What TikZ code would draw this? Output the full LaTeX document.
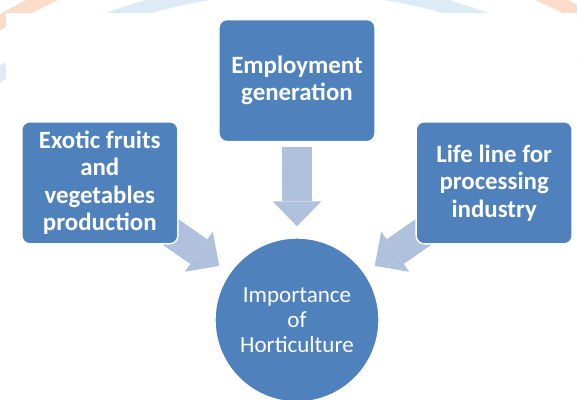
\documentclass[tikz,border=0pt]{standalone}
\usepackage{fontspec}
\setmainfont{Carlito}
\usepackage{tikz}
\usepackage{xcolor}
\usetikzlibrary{arrows.meta, positioning, backgrounds}
\definecolor{boxblue}{HTML}{4F81BD}
\definecolor{arrowblue}{HTML}{B0C1DE}
\definecolor{ringorange}{HTML}{FBDCCB}
\definecolor{ringblue}{HTML}{DDEBF6}
\tikzset{%
  box/.style={draw=white, line width=1pt, fill=boxblue, rounded corners=0.2cm,
    minimum width=3.9cm, minimum height=3.05cm, inner sep=2pt, align=center,
    text=white, font=\fontsize{17.7}{19.6}\selectfont\bfseries},
  hub/.style={draw=white, line width=1pt, fill=boxblue, circle, minimum size=4.1cm,
    inner sep=0pt, align=center, text=white, font=\fontsize{16.4}{17.8}\selectfont},
  flow/.style={draw=arrowblue, line width=0.75cm,
    -{Triangle[length=0.625cm, width=1.225cm, line width=0pt]}},
  ring/.style={line width=0.35cm}
}

\begin{document}
\begin{tikzpicture}
  \useasboundingbox (-7.425,-2) rectangle (7,8);

  \node[hub] (imp) at (0,0) {Importance\\of\\Horticulture};
  \node[box,above=2.375cm of imp] (employ) {Employment\\generation};
  \node[box,above left=0.425cm and 1.5cm of imp] (exotic) {Exotic fruits\\and\\vegetables\\production};
  \node[box,above right=0.425cm and 1.5cm of imp] (lifeline) {Life line for\\processing\\industry};

  \begin{scope}[on background layer]
    \fill[white] (-7.425,-2) rectangle (7,8);
    % faint rings outside the white panel
    \begin{scope}[even odd rule]
      \clip (-7.425,-2) rectangle (7,8) (-7.275,-2.1) rectangle (7.1,7.675);
      \draw[ring, ringorange] (0,-5.25) circle (14.7);
      \draw[ring, ringblue] (0,-5.25) circle (13.6);
    \end{scope}
    \draw[flow, shorten <=0.125cm, shorten >=0.275cm] (employ) -- (imp);
    \draw[flow, shorten <=-0.5cm, shorten >=0.3cm] (exotic) -- (imp);
    \draw[flow, shorten <=-0.5cm, shorten >=0.3cm] (lifeline) -- (imp);
  \end{scope}
\end{tikzpicture}
\end{document}
